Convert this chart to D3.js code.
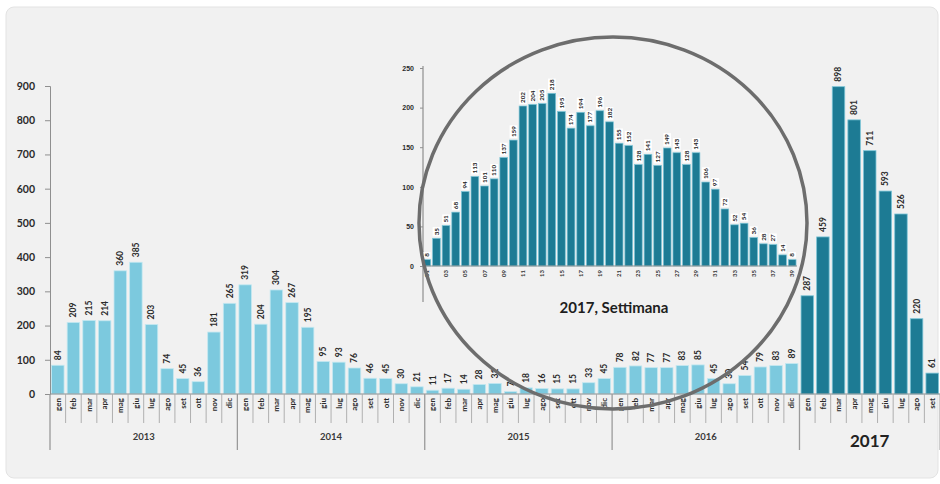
<!DOCTYPE html>
<html>
<head>
<meta charset="utf-8">
<script src="https://cdn.jsdelivr.net/npm/d3@7"></script>
<style>
  body { margin: 0; background: #ffffff; }
  svg { display: block; font-family: Lato, "Open Sans", "DejaVu Sans", sans-serif; }
</style>
</head>
<body>
<svg id="chart" width="940" height="484"></svg>
<script>
// Monthly cases, 2013 – 2017
const monthNames = ["gen", "feb", "mar", "apr", "mag", "giu", "lug", "ago", "set", "ott", "nov", "dic"];
const years = ["2013", "2014", "2015", "2016", "2017"];
const cases2013 = [84, 209, 215, 214, 360, 385, 203, 74, 45, 36, 181, 265];
const cases2014 = [319, 204, 304, 267, 195, 95, 93, 76, 46, 45, 30, 21];
const cases2015 = [11, 17, 14, 28, 31, 7, 18, 16, 15, 15, 33, 45];
const cases2016 = [78, 82, 77, 77, 83, 85, 45, 30, 54, 79, 83, 89];
const cases2017 = [287, 459, 898, 801, 711, 593, 526, 220, 61];
const monthTicks = [0, 100, 200, 300, 400, 500, 600, 700, 800, 900];

// Weekly cases, 2017
const weekLabels = ["01","02","03","04","05","06","07","08","09","10","11","12","13","14","15","16","17","18","19","20",
                    "21","22","23","24","25","26","27","28","29","30","31","32","33","34","35","36","37","38","39"];
const weeklyCases2017 = [8, 35, 51, 68, 94, 113, 101, 110, 137, 159, 202, 204, 205, 218, 195, 174, 194, 177, 196, 182,
                         155, 152, 128, 141, 127, 149, 143, 128, 143, 106, 97, 72, 52, 54, 36, 28, 27, 14, 8];
const weekTicks = [0, 50, 100, 150, 200, 250];

const svg = d3.select("#chart");
const LIGHT = "#7cc9de", LIGHT_EDGE = "#c3e8f1";
const DARK = "#1d7b94", DARK_EDGE = "#7cc5d7";
const TEXT = "#2b2b2b", AXIS = "#8f8f8f";

// panel
svg.append("rect").attr("x", 6).attr("y", 7).attr("width", 932).attr("height", 471)
  .attr("rx", 8).attr("fill", "#f1f1f1").attr("stroke", "#e3e3e3");

// ---------- monthly chart ----------
const perYear = [cases2013, cases2014, cases2015, cases2016, cases2017];
const monthly = [];
perYear.forEach((arr, yi) => arr.forEach((v, mi) => monthly.push({
  key: years[yi] + "-" + mi, year: years[yi], month: monthNames[mi], value: v, yi
})));

const x = d3.scaleBand().domain(monthly.map(d => d.key)).range([50, 940]).paddingInner(0.2).paddingOuter(0.1);
const y = d3.scaleLinear().domain([0, 900]).range([394, 86]);
const step = x.step();
const edgeX = i => 50 + i * step;

const main = svg.append("g");

// y axis
const yAxis = main.append("g").attr("transform", "translate(50,0)")
  .call(d3.axisLeft(y).tickValues(monthTicks).tickSize(5).tickPadding(10));
yAxis.select(".domain").attr("stroke", AXIS);
yAxis.selectAll(".tick line").attr("stroke", AXIS);
yAxis.selectAll(".tick text").attr("font-size", 10.5).attr("font-weight", 700).attr("fill", TEXT)
  .attr("font-family", "Lato, sans-serif");

// bars
main.selectAll("rect.m").data(monthly).join("rect").attr("class", "m")
  .attr("x", d => x(d.key)).attr("width", x.bandwidth())
  .attr("y", d => y(d.value)).attr("height", d => y(0) - y(d.value))
  .attr("fill", d => d.year === "2017" ? DARK : LIGHT)
  .attr("stroke", d => d.year === "2017" ? DARK_EDGE : LIGHT_EDGE).attr("stroke-width", 0.8);

// baseline
main.append("line").attr("x1", 50).attr("x2", 940).attr("y1", y(0)).attr("y2", y(0))
  .attr("stroke", AXIS).attr("stroke-width", 1.2);

// value labels
main.selectAll("text.v").data(monthly).join("text").attr("class", "v")
  .attr("transform", d => `translate(${x(d.key) + x.bandwidth() / 2},${y(d.value) - 5}) rotate(-90)`)
  .attr("dy", "0.35em").attr("text-anchor", "start")
  .attr("font-size", 8.5).attr("font-weight", 700).attr("fill", TEXT).text(d => d.value);

// month dividers and labels
monthly.forEach((d, i) => {
  const isYearStart = i === 0 || monthly[i - 1].year !== d.year;
  main.append("line").attr("x1", edgeX(i)).attr("x2", edgeX(i))
    .attr("y1", y(0)).attr("y2", isYearStart ? 450 : 423)
    .attr("stroke", isYearStart ? "#9a9a9a" : "#a8a8a8").attr("stroke-width", isYearStart ? 1.3 : 0.9);
});
main.append("line").attr("x1", edgeX(monthly.length)).attr("x2", edgeX(monthly.length))
  .attr("y1", y(0)).attr("y2", 450).attr("stroke", "#9a9a9a");
main.selectAll("text.mn").data(monthly).join("text").attr("class", "mn")
  .attr("transform", d => `translate(${x(d.key) + x.bandwidth() / 2},398) rotate(-90)`)
  .attr("dy", "0.35em").attr("text-anchor", "end")
  .attr("font-size", 8).attr("font-weight", 700).attr("fill", TEXT).text(d => d.month);

// year labels
years.forEach((yr, yi) => {
  const first = monthly.findIndex(d => d.year === yr);
  const count = perYear[yi].length;
  const cx = (edgeX(first) + edgeX(first + count)) / 2;
  const big = yr === "2017";
  main.append("text").attr("x", cx).attr("y", big ? 447 : 440)
    .attr("text-anchor", "middle").attr("font-size", big ? 17 : 9.5)
    .attr("font-weight", 700).attr("fill", big ? "#222" : "#3a3a3a").text(yr);
});

// ---------- weekly inset ----------
const xi = d3.scaleBand().domain(weekLabels).range([422, 797]).paddingInner(0.2).paddingOuter(0.1);
const yi = d3.scaleLinear().domain([0, 250]).range([266, 68]);
const inset = svg.append("g");

const yAxisI = inset.append("g").attr("transform", "translate(423,0)")
  .call(d3.axisLeft(yi).tickValues(weekTicks).tickSize(3).tickPadding(6));
yAxisI.select(".domain").remove();
yAxisI.selectAll(".tick line").attr("stroke", AXIS);
yAxisI.selectAll(".tick text").attr("font-size", 7).attr("font-weight", 700).attr("fill", TEXT);
inset.append("line").attr("x1", 423).attr("x2", 423).attr("y1", 66).attr("y2", 302)
  .attr("stroke", AXIS).attr("stroke-width", 1.2);

inset.selectAll("rect.w").data(weeklyCases2017).join("rect").attr("class", "w")
  .attr("x", (d, i) => xi(weekLabels[i])).attr("width", xi.bandwidth())
  .attr("y", d => yi(d)).attr("height", d => yi(0) - yi(d))
  .attr("fill", DARK).attr("stroke", DARK_EDGE).attr("stroke-width", 0.7);

inset.append("line").attr("x1", 423).attr("x2", 797).attr("y1", yi(0)).attr("y2", yi(0))
  .attr("stroke", AXIS).attr("stroke-width", 1);

// value labels with white boxes
const wl = inset.selectAll("g.wl").data(weeklyCases2017).join("g").attr("class", "wl")
  .attr("transform", (d, i) => `translate(${xi(weekLabels[i]) + xi.bandwidth() / 2},${yi(d) - 2}) rotate(-90)`);
wl.append("rect").attr("x", 0).attr("y", -3.8)
  .attr("width", d => String(d).length * 3.6 + 2).attr("height", 7.6).attr("fill", "#ffffff");
wl.append("text").attr("x", 1).attr("dy", "0.35em").attr("font-size", 6.3).attr("font-weight", 700)
  .attr("fill", "#222").text(d => d);

// week tick labels (every other week)
inset.selectAll("text.wk").data(weekLabels.filter((d, i) => i % 2 === 0)).join("text").attr("class", "wk")
  .attr("transform", d => `translate(${xi(d) + xi.bandwidth() / 2},270) rotate(-90)`)
  .attr("dy", "0.35em").attr("text-anchor", "end")
  .attr("font-size", 6).attr("font-weight", 700).attr("fill", "#333").text(d => d);

inset.append("text").attr("x", 614).attr("y", 313).attr("text-anchor", "middle")
  .attr("font-size", 15).attr("font-weight", 700).attr("fill", "#1e1e1e").text("2017, Settimana");

// highlight ring around the inset
svg.append("ellipse").attr("cx", 613).attr("cy", 223).attr("rx", 194).attr("ry", 186)
  .attr("fill", "none").attr("stroke", "#6d6d6d").attr("stroke-width", 3.5);
</script>
</body>
</html>
